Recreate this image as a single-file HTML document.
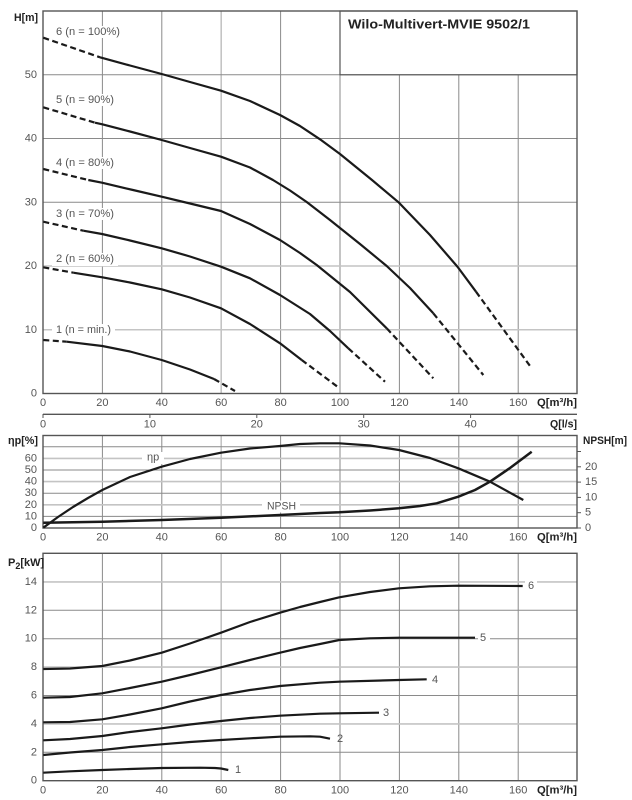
<!DOCTYPE html>
<html><head><meta charset="utf-8"><style>
html,body{margin:0;padding:0;background:#fff;}
svg{display:block;}
text{font-family:"Liberation Sans",sans-serif;}
.t{font-size:11px;fill:#555;}
.b{font-size:11px;fill:#222;font-weight:bold;}
.g{stroke:#8a8a8a;stroke-width:1;fill:none;}
.gl{stroke:#c4c4c4;stroke-width:1.6;fill:none;}
.fr{stroke:#555;stroke-width:1.4;fill:none;}
.c{stroke:#1a1a1a;stroke-width:2.2;fill:none;stroke-linejoin:round;stroke-linecap:butt;}
.d{stroke:#1a1a1a;stroke-width:2.2;fill:none;stroke-dasharray:6 3.5;}
</style></head><body>
<svg width="632" height="800" viewBox="0 0 632 800" xmlns="http://www.w3.org/2000/svg">
<rect width="632" height="800" fill="#fff"/>

<!-- ============ TOP CHART ============ -->
<g>
<!-- vertical grid -->
<line class="g" x1="102.4" y1="11" x2="102.4" y2="393.5"/>
<line class="g" x1="161.8" y1="11" x2="161.8" y2="393.5"/>
<line class="gl" x1="221.2" y1="11" x2="221.2" y2="393.5"/>
<line class="g" x1="280.6" y1="11" x2="280.6" y2="393.5"/>
<line class="g" x1="340" y1="11" x2="340" y2="393.5"/>
<line class="g" x1="399.4" y1="74.75" x2="399.4" y2="393.5"/>
<line class="g" x1="458.8" y1="74.75" x2="458.8" y2="393.5"/>
<line class="g" x1="518.2" y1="74.75" x2="518.2" y2="393.5"/>
<!-- horizontal grid -->
<line class="gl" x1="43" y1="329.75" x2="577" y2="329.75"/>
<line class="gl" x1="43" y1="266" x2="577" y2="266"/>
<line class="g" x1="43" y1="202.25" x2="577" y2="202.25"/>
<line class="g" x1="43" y1="138.5" x2="577" y2="138.5"/>
<line class="g" x1="43" y1="74.75" x2="577" y2="74.75"/>
<!-- title box -->
<rect x="340" y="11" width="237" height="63.75" fill="#fff" stroke="#555" stroke-width="1.2"/>
<text class="b" x="348" y="24" dominant-baseline="central" style="font-size:13px" textLength="182" lengthAdjust="spacingAndGlyphs">Wilo-Multivert-MVIE 9502/1</text>
<!-- frame -->
<rect class="fr" x="43" y="11" width="534" height="382.5"/>

<!-- curve labels with white bg -->
<rect x="52" y="26" width="72" height="12" fill="#fff"/>
<text class="t" x="56" y="32" dominant-baseline="central" textLength="64" lengthAdjust="spacingAndGlyphs">6 (n = 100%)</text>
<rect x="52" y="94" width="66" height="12" fill="#fff"/>
<text class="t" x="56" y="100" dominant-baseline="central" textLength="58" lengthAdjust="spacingAndGlyphs">5 (n = 90%)</text>
<rect x="52" y="157" width="66" height="12" fill="#fff"/>
<text class="t" x="56" y="163" dominant-baseline="central" textLength="58" lengthAdjust="spacingAndGlyphs">4 (n = 80%)</text>
<rect x="52" y="208" width="66" height="12" fill="#fff"/>
<text class="t" x="56" y="214" dominant-baseline="central" textLength="58" lengthAdjust="spacingAndGlyphs">3 (n = 70%)</text>
<rect x="52" y="253" width="66" height="13" fill="#fff"/>
<text class="t" x="56" y="259" dominant-baseline="central" textLength="58" lengthAdjust="spacingAndGlyphs">2 (n = 60%)</text>
<rect x="52" y="324" width="63" height="12" fill="#fff"/>
<text class="t" x="56" y="330" dominant-baseline="central" textLength="55" lengthAdjust="spacingAndGlyphs">1 (n = min.)</text>

<!-- curve 6 -->
<polyline class="d" points="43.3,37.7 100,57.3"/>
<polyline class="c" points="100,57.3 130,65.5 161.7,74 190,82 221,90.7 250,101 280,115 300,126 320,139.3 340,154 356,167 372,180 399,202.7 430,235 457.7,267 476,291.7"/>
<polyline class="d" points="476,291.7 531.7,368.3"/>
<!-- curve 5 -->
<polyline class="d" points="43.3,107.3 95,122.7"/>
<polyline class="c" points="95,122.7 102.3,124.3 130,131.5 161.7,140 190,148 221,156.7 250,167.5 273,180 290,190.5 306.7,202 330,220 360,244 386.7,266 410,288 433.3,313.3"/>
<polyline class="d" points="433.3,313.3 483.3,375"/>
<!-- curve 4 -->
<polyline class="d" points="43.3,169 88.3,180"/>
<polyline class="c" points="88.3,180 102,182.7 133,190 161.7,196.7 190,203.5 221,211 250,224 280,240 300,253 316.7,265 350,292 386.7,328.3"/>
<polyline class="d" points="386.7,328.3 433.3,378.3"/>
<!-- curve 3 -->
<polyline class="d" points="43.3,221.7 83.3,230.7"/>
<polyline class="c" points="83.3,230.7 102,234 130,240.5 161.7,248.3 190,256.5 221,266.7 250,278.3 280,295 310,314 330,331 348.3,348.3"/>
<polyline class="d" points="348.3,348.3 385,381.7"/>
<!-- curve 2 -->
<polyline class="d" points="43.3,267.3 73.3,272.7"/>
<polyline class="c" points="73.3,272.7 102.3,277.3 130,282.5 161.7,289.3 190,297.5 221,308.3 250,324 280,343.3 301.7,360"/>
<polyline class="d" points="301.7,360 338.3,387.3"/>
<!-- curve 1 -->
<polyline class="d" points="43.3,340 66.7,341.7"/>
<polyline class="c" points="66.7,341.7 102.3,346 130,351.5 161.7,360 190,369.5 214,379"/>
<polyline class="d" points="214,379 235,391"/>

<!-- axis labels -->
<text class="b" x="14" y="18" dominant-baseline="central" textLength="24" lengthAdjust="spacingAndGlyphs">H[m]</text>
<g class="t" text-anchor="end">
<text x="37" y="393.5" dominant-baseline="central">0</text>
<text x="37" y="329.75" dominant-baseline="central">10</text>
<text x="37" y="266" dominant-baseline="central">20</text>
<text x="37" y="202.25" dominant-baseline="central">30</text>
<text x="37" y="138.5" dominant-baseline="central">40</text>
<text x="37" y="74.75" dominant-baseline="central">50</text>
</g>
<g class="t" text-anchor="middle">
<text x="43" y="403" dominant-baseline="central">0</text>
<text x="102.4" y="403" dominant-baseline="central">20</text>
<text x="161.8" y="403" dominant-baseline="central">40</text>
<text x="221.2" y="403" dominant-baseline="central">60</text>
<text x="280.6" y="403" dominant-baseline="central">80</text>
<text x="340" y="403" dominant-baseline="central">100</text>
<text x="399.4" y="403" dominant-baseline="central">120</text>
<text x="458.8" y="403" dominant-baseline="central">140</text>
<text x="518.2" y="403" dominant-baseline="central">160</text>
</g>
<text class="b" x="537" y="403" dominant-baseline="central" textLength="40" lengthAdjust="spacingAndGlyphs">Q[m³/h]</text>
</g>

<!-- ============ Q l/s axis ============ -->
<line x1="43" y1="414.3" x2="577" y2="414.3" stroke="#555" stroke-width="1.3"/>
<g stroke="#555" stroke-width="1">
<line x1="43" y1="414" x2="43" y2="418"/>
<line x1="149.9" y1="414" x2="149.9" y2="418"/>
<line x1="256.8" y1="414" x2="256.8" y2="418"/>
<line x1="363.7" y1="414" x2="363.7" y2="418"/>
<line x1="470.6" y1="414" x2="470.6" y2="418"/>
</g>
<g class="t" text-anchor="middle">
<text x="43" y="424.5" dominant-baseline="central">0</text>
<text x="149.9" y="424.5" dominant-baseline="central">10</text>
<text x="256.8" y="424.5" dominant-baseline="central">20</text>
<text x="363.7" y="424.5" dominant-baseline="central">30</text>
<text x="470.6" y="424.5" dominant-baseline="central">40</text>
</g>
<text class="b" x="550" y="424.5" dominant-baseline="central" textLength="27" lengthAdjust="spacingAndGlyphs">Q[l/s]</text>

<!-- ============ MIDDLE CHART ============ -->
<g>
<line class="g" x1="102.4" y1="435.5" x2="102.4" y2="528"/>
<line class="g" x1="161.8" y1="435.5" x2="161.8" y2="528"/>
<line class="gl" x1="221.2" y1="435.5" x2="221.2" y2="528"/>
<line class="g" x1="280.6" y1="435.5" x2="280.6" y2="528"/>
<line class="g" x1="340" y1="435.5" x2="340" y2="528"/>
<line class="g" x1="399.4" y1="435.5" x2="399.4" y2="528"/>
<line class="g" x1="458.8" y1="435.5" x2="458.8" y2="528"/>
<line class="g" x1="518.2" y1="435.5" x2="518.2" y2="528"/>
<line class="g" x1="43" y1="516.4" x2="577" y2="516.4"/>
<line class="gl" x1="43" y1="504.8" x2="577" y2="504.8"/>
<line class="g" x1="43" y1="493.2" x2="577" y2="493.2"/>
<line class="gl" x1="43" y1="481.6" x2="577" y2="481.6"/>
<line class="g" x1="43" y1="470" x2="577" y2="470"/>
<line class="gl" x1="43" y1="458.4" x2="577" y2="458.4"/>
<line class="g" x1="43" y1="446.8" x2="577" y2="446.8"/>
<rect class="fr" x="43" y="435.5" width="534" height="92.5"/>
<!-- right ticks -->
<g stroke="#555" stroke-width="1">
<line x1="577" y1="528" x2="581" y2="528"/>
<line x1="577" y1="512.7" x2="581" y2="512.7"/>
<line x1="577" y1="497.4" x2="581" y2="497.4"/>
<line x1="577" y1="482.1" x2="581" y2="482.1"/>
<line x1="577" y1="466.8" x2="581" y2="466.8"/>
<line x1="577" y1="451.5" x2="581" y2="451.5"/>
</g>
<g class="t">
<text x="585" y="528" dominant-baseline="central">0</text>
<text x="585" y="512.7" dominant-baseline="central">5</text>
<text x="585" y="497.4" dominant-baseline="central">10</text>
<text x="585" y="482.1" dominant-baseline="central">15</text>
<text x="585" y="466.8" dominant-baseline="central">20</text>
</g>
<text class="b" x="583" y="441" dominant-baseline="central" textLength="44" lengthAdjust="spacingAndGlyphs">NPSH[m]</text>
<text class="b" x="8" y="441" dominant-baseline="central" textLength="30" lengthAdjust="spacingAndGlyphs">ηp[%]</text>
<g class="t" text-anchor="end">
<text x="37" y="528" dominant-baseline="central">0</text>
<text x="37" y="516.4" dominant-baseline="central">10</text>
<text x="37" y="504.8" dominant-baseline="central">20</text>
<text x="37" y="493.2" dominant-baseline="central">30</text>
<text x="37" y="481.6" dominant-baseline="central">40</text>
<text x="37" y="470" dominant-baseline="central">50</text>
<text x="37" y="458.4" dominant-baseline="central">60</text>
</g>
<!-- labels -->
<rect x="142" y="452" width="22" height="12" fill="#fff"/>
<text class="t" x="147" y="457.5" dominant-baseline="central">ηp</text>
<rect x="262" y="500.5" width="38" height="12" fill="#fff"/>
<text class="t" x="267" y="506.5" dominant-baseline="central" textLength="29" lengthAdjust="spacingAndGlyphs">NPSH</text>
<!-- eta -->
<polyline class="c" points="43.3,527.7 58,517 73,507 88,498 102.3,490 130,477 161.7,466.7 190,459 221,452.7 250,448.5 280,446 300,444 320,443.3 339.3,443.3 370,445.5 399,450 430,458 458.3,468.3 490,481.7 523.3,500"/>
<!-- NPSH -->
<polyline class="c" style="stroke-width:2.5" points="43.3,522.7 102.3,521.7 161.7,520 221,517.7 280,515 320,513 339.3,512.3 370,510.5 399,508.3 420,506 436.7,503.3 458.3,496.7 475,490 490,481.7 510,468 531.7,451.7"/>
<g class="t" text-anchor="middle">
<text x="43" y="537.5" dominant-baseline="central">0</text>
<text x="102.4" y="537.5" dominant-baseline="central">20</text>
<text x="161.8" y="537.5" dominant-baseline="central">40</text>
<text x="221.2" y="537.5" dominant-baseline="central">60</text>
<text x="280.6" y="537.5" dominant-baseline="central">80</text>
<text x="340" y="537.5" dominant-baseline="central">100</text>
<text x="399.4" y="537.5" dominant-baseline="central">120</text>
<text x="458.8" y="537.5" dominant-baseline="central">140</text>
<text x="518.2" y="537.5" dominant-baseline="central">160</text>
</g>
<text class="b" x="537" y="537.5" dominant-baseline="central" textLength="40" lengthAdjust="spacingAndGlyphs">Q[m³/h]</text>
</g>

<!-- ============ BOTTOM CHART ============ -->
<g>
<line class="g" x1="102.4" y1="553.3" x2="102.4" y2="780.7"/>
<line class="g" x1="161.8" y1="553.3" x2="161.8" y2="780.7"/>
<line class="gl" x1="221.2" y1="553.3" x2="221.2" y2="780.7"/>
<line class="g" x1="280.6" y1="553.3" x2="280.6" y2="780.7"/>
<line class="g" x1="340" y1="553.3" x2="340" y2="780.7"/>
<line class="g" x1="399.4" y1="553.3" x2="399.4" y2="780.7"/>
<line class="g" x1="458.8" y1="553.3" x2="458.8" y2="780.7"/>
<line class="g" x1="518.2" y1="553.3" x2="518.2" y2="780.7"/>
<line class="g" x1="43" y1="752.3" x2="577" y2="752.3"/>
<line class="gl" x1="43" y1="723.9" x2="577" y2="723.9"/>
<line class="g" x1="43" y1="695.5" x2="577" y2="695.5"/>
<line class="gl" x1="43" y1="667.1" x2="577" y2="667.1"/>
<line class="g" x1="43" y1="638.7" x2="577" y2="638.7"/>
<line class="g" x1="43" y1="610.3" x2="577" y2="610.3"/>
<line class="gl" x1="43" y1="581.9" x2="577" y2="581.9"/>
<rect class="fr" x="43" y="553.3" width="534" height="227.4"/>
<text class="b" x="8" y="563" dominant-baseline="central">P<tspan style="font-size:9px" dy="3">2</tspan><tspan dy="-3">[kW]</tspan></text>
<g class="t" text-anchor="end">
<text x="37" y="780.7" dominant-baseline="central">0</text>
<text x="37" y="752.3" dominant-baseline="central">2</text>
<text x="37" y="723.9" dominant-baseline="central">4</text>
<text x="37" y="695.5" dominant-baseline="central">6</text>
<text x="37" y="667.1" dominant-baseline="central">8</text>
<text x="37" y="638.7" dominant-baseline="central">10</text>
<text x="37" y="610.3" dominant-baseline="central">12</text>
<text x="37" y="581.9" dominant-baseline="central">14</text>
</g>
<!-- labels bg -->
<rect x="525" y="580" width="12" height="12" fill="#fff"/>
<text class="t" x="528" y="586" dominant-baseline="central">6</text>
<rect x="478" y="632" width="12" height="12" fill="#fff"/>
<text class="t" x="480" y="638" dominant-baseline="central">5</text>
<text class="t" x="432" y="680" dominant-baseline="central">4</text>
<text class="t" x="383" y="713" dominant-baseline="central">3</text>
<text class="t" x="337" y="739" dominant-baseline="central">2</text>
<text class="t" x="235" y="770" dominant-baseline="central">1</text>
<!-- curves -->
<polyline class="c" points="43.3,669 70,668.5 102.3,666 130,660.5 161.7,652.7 190,643.5 221,632.7 250,622 280,612.7 300,607 320,602 339.3,597.3 370,592 399,588.3 430,586.3 458.3,585.7 522.7,586"/>
<polyline class="c" points="43.3,697.7 70,697 102.3,693.3 130,688 161.7,681.7 190,675 221,667.3 250,660 280,652.7 300,648 320,644 339.3,640 370,638.3 399,637.7 475,637.7"/>
<polyline class="c" points="43.3,722.3 70,722 102.3,719.3 130,714.5 161.7,708.3 190,701.5 221,695 250,690 280,686 320,682.7 339.3,681.7 399,680 426.7,679.3"/>
<polyline class="c" points="43.3,740.3 70,739 102.3,736 130,732 161.7,728.3 190,724.5 221,721 250,718 280,715.7 320,713.7 339.3,713.3 379,712.7"/>
<polyline class="c" points="43.3,755 70,752.5 102.3,750 130,747 161.7,744.3 190,742 221,740 250,738.3 280,736.7 310,736.3 320,736.7 330,738.7"/>
<polyline class="c" points="43.3,772.7 70,771.3 102.3,770 130,769 161.7,768 200,767.7 215,768 221,768.5 228.3,770"/>
<g class="t" text-anchor="middle">
<text x="43" y="790.5" dominant-baseline="central">0</text>
<text x="102.4" y="790.5" dominant-baseline="central">20</text>
<text x="161.8" y="790.5" dominant-baseline="central">40</text>
<text x="221.2" y="790.5" dominant-baseline="central">60</text>
<text x="280.6" y="790.5" dominant-baseline="central">80</text>
<text x="340" y="790.5" dominant-baseline="central">100</text>
<text x="399.4" y="790.5" dominant-baseline="central">120</text>
<text x="458.8" y="790.5" dominant-baseline="central">140</text>
<text x="518.2" y="790.5" dominant-baseline="central">160</text>
</g>
<text class="b" x="537" y="790.5" dominant-baseline="central" textLength="40" lengthAdjust="spacingAndGlyphs">Q[m³/h]</text>
</g>
</svg>
</body></html>
